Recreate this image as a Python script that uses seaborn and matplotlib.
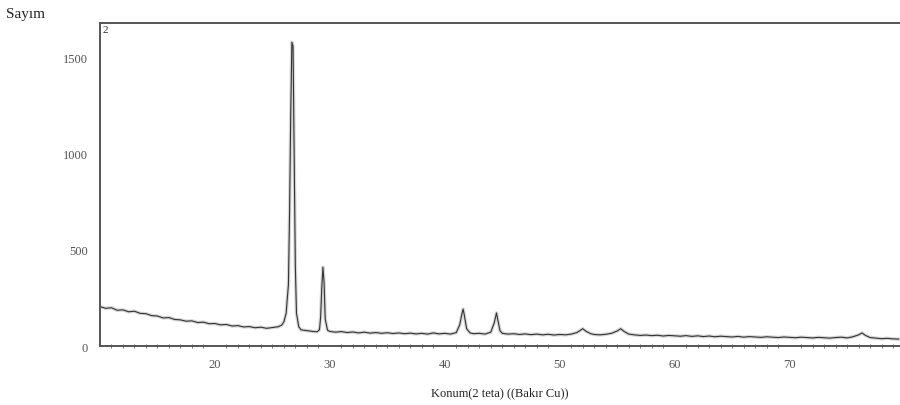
import numpy as np
import pandas as pd
import seaborn as sns
import matplotlib.pyplot as plt

# XRD pattern: 2-theta (deg) and counts
two_theta = [
    10.0, 10.5, 11.0, 11.5, 12.0, 12.5, 13.0, 13.5, 14.0, 14.5,
    15.0, 15.5, 16.0, 16.5, 17.0, 17.5, 18.0, 18.5, 19.0, 19.5,
    20.0, 20.5, 21.0, 21.5, 22.0, 22.5, 23.0, 23.5, 24.0, 24.5,
    25.0, 25.5, 25.8, 26.0, 26.2, 26.4, 26.5, 26.6, 26.7, 26.8,
    26.9, 27.0, 27.1, 27.3, 27.5, 28.0, 28.5, 28.9, 29.1, 29.2,
    29.3, 29.4, 29.5, 29.6, 29.8, 30.0, 30.5, 31.0, 31.5, 32.0,
    32.5, 33.0, 33.5, 34.0, 34.5, 35.0, 35.5, 36.0, 36.5, 37.0,
    37.5, 38.0, 38.5, 39.0, 39.5, 40.0, 40.5, 41.0, 41.3, 41.5,
    41.6, 41.7, 41.9, 42.2, 42.5, 43.0, 43.5, 44.0, 44.3, 44.5,
    44.6, 44.8, 45.0, 45.5, 46.0, 46.5, 47.0, 47.5, 48.0, 48.5,
    49.0, 49.5, 50.0, 50.5, 51.0, 51.5, 51.8, 52.0, 52.3, 52.7,
    53.0, 53.5, 54.0, 54.5, 55.0, 55.3, 55.6, 56.0, 56.5, 57.0,
    57.5, 58.0, 58.5, 59.0, 59.5, 60.0, 60.5, 61.0, 61.5, 62.0,
    62.5, 63.0, 63.5, 64.0, 64.5, 65.0, 65.5, 66.0, 66.5, 67.0,
    67.5, 68.0, 68.5, 69.0, 69.5, 70.0, 70.5, 71.0, 71.5, 72.0,
    72.5, 73.0, 73.5, 74.0, 74.5, 75.0, 75.5, 76.0, 76.3, 76.6,
    77.0, 77.5, 78.0, 78.5, 79.0, 79.5,
]
counts = [
    205, 196, 199, 186, 188, 178, 181, 170, 168, 158,
    156, 146, 148, 138, 136, 129, 131, 122, 124, 116,
    117, 110, 112, 104, 106, 99, 101, 95, 98, 92,
    96, 100, 108, 125, 170, 320, 700, 1200, 1580, 1560,
    1000, 420, 170, 100, 84, 80, 76, 74, 85, 150,
    300, 410, 330, 140, 82, 76, 72, 75, 70, 73,
    68, 72, 67, 70, 66, 69, 65, 68, 64, 67,
    63, 66, 62, 68, 63, 66, 62, 70, 110, 170,
    192, 160, 90, 68, 64, 66, 62, 72, 120, 172,
    140, 80, 66, 62, 64, 60, 63, 59, 62, 58,
    61, 57, 60, 58, 62, 70, 82, 90, 76, 64,
    60, 58, 61, 66, 78, 90, 76, 62, 58, 55,
    57, 54, 56, 52, 55, 53, 51, 54, 50, 53,
    49, 52, 48, 51, 49, 47, 50, 46, 49, 47,
    45, 48, 46, 44, 47, 45, 43, 46, 44, 42,
    45, 43, 41, 44, 46, 42, 48, 58, 68, 55,
    44, 41, 38, 40, 37, 36,
]

df = pd.DataFrame({'2theta': two_theta, 'counts': counts})

sns.set_theme(style='white')
plt.rcParams['font.family'] = ['Liberation Serif', 'DejaVu Serif']

fig = plt.figure(figsize=(9, 4.06), dpi=100)
ax = fig.add_axes([0.111, 0.1453, 0.889, 0.7956])

# faint scan halo under the trace
sns.lineplot(data=df, x='2theta', y='counts', ax=ax, color='#bbbbbb', linewidth=2.5, alpha=0.6)
sns.lineplot(data=df, x='2theta', y='counts', ax=ax, color='#333333', linewidth=0.8)

ax.set_xlim(10, 79.6)
ax.set_ylim(0, 1680)
ax.set_xticks([20, 30, 40, 50, 60, 70])
ax.set_xticks(np.arange(11, 80, 1), minor=True)
ax.set_yticks([0, 500, 1000, 1500])
ax.tick_params(axis='both', which='major', direction='out', length=5, width=0.8,
               color='#555555', labelsize=9, labelcolor='#555555')
ax.tick_params(axis='x', which='minor', direction='inout', length=3, width=0.6,
               color='#666666', bottom=True)

for side in ['left', 'top', 'bottom']:
    ax.spines[side].set_color('#555555')
    ax.spines[side].set_linewidth(1.4)
ax.spines['right'].set_visible(False)

ax.set_xlabel('Konum(2 teta) ((Bakır Cu))', fontsize=9, color='#222222', labelpad=12)
ax.set_ylabel('')
ax.text(0.003, 0.995, '2', transform=ax.transAxes, fontsize=8, va='top', ha='left', color='#333333')
fig.text(0.007, 0.965, 'Sayım', fontsize=11, color='#222222', va='center', ha='left')

plt.savefig('out.png', dpi=100)
